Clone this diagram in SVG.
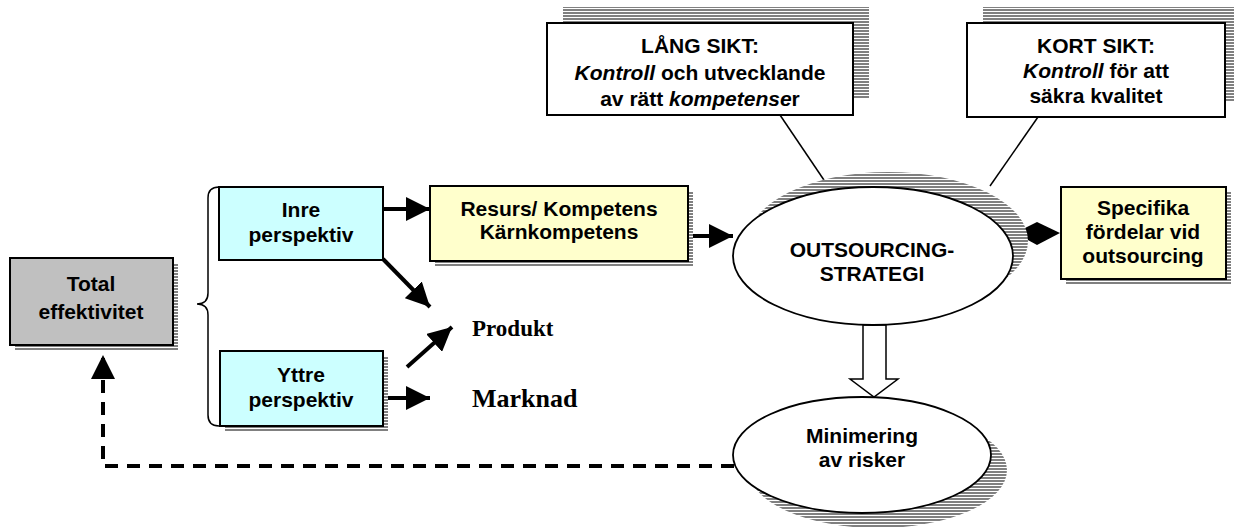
<svg xmlns="http://www.w3.org/2000/svg" width="1234" height="528" viewBox="0 0 1234 528">
<style>
.box{stroke:#000;stroke-width:2}
.t{font-family:"Liberation Sans",Arial,sans-serif;font-weight:bold;font-size:21px;text-anchor:middle;fill:#000}
.s{font-family:"Liberation Serif","Times New Roman",serif;font-weight:bold;fill:#000}
.ln{stroke:#000;stroke-width:4;fill:none}
.thin{stroke:#000;stroke-width:1.5;fill:none}
</style>
<defs>
<pattern id="stripes" width="4" height="3" patternUnits="userSpaceOnUse">
<rect width="4" height="3" fill="#fff"/>
<rect width="4" height="2" fill="#808080"/>
</pattern>
<marker id="ah" markerUnits="userSpaceOnUse" markerWidth="24" markerHeight="24" refX="24" refY="12" orient="auto">
<path d="M0,0 L24,12 L0,24 z" fill="#000"/>
</marker>
<marker id="ahd" markerUnits="userSpaceOnUse" markerWidth="24" markerHeight="24" refX="24" refY="12" orient="auto">
<path d="M0,0 L24,12 L0,24 z" fill="#000"/>
</marker>
</defs>

<g id="connectors">
<line class="thin" x1="780" y1="115" x2="828" y2="186"/>
<line class="thin" x1="1038" y1="117" x2="990" y2="186"/>
<line class="ln" x1="383" y1="209" x2="430" y2="209" marker-end="url(#ah)"/>
<line class="ln" x1="383" y1="259" x2="430" y2="307" marker-end="url(#ah)"/>
<line class="ln" x1="407" y1="367" x2="452" y2="327" marker-end="url(#ah)"/>
<line class="ln" x1="383" y1="398" x2="430" y2="398" marker-end="url(#ah)"/>
<line class="ln" x1="688" y1="236" x2="733" y2="236" marker-end="url(#ah)"/>
<polygon points="1015,233 1037,222 1060,233 1037,245" fill="#000"/>
<path d="M734,466 H103 V355" stroke="#000" stroke-width="4" fill="none" stroke-dasharray="13 9" marker-end="url(#ahd)"/>
<polygon points="863,325 886,325 886,379 898,379 874,397 850,379 863,379" fill="#fff" stroke="#000" stroke-width="1.5"/>
<path class="thin" d="M219,187 Q208,187 208,198 L208,293 Q208,304 197,304 Q208,304 208,315 L208,415 Q208,426 219,426"/>
</g>

<g id="lang-sikt">
<rect x="563" y="7" width="306" height="92" fill="url(#stripes)"/>
<rect class="box" x="547" y="23" width="306" height="92" fill="#fff"/>
<text class="t" x="700" y="53">LÅNG SIKT:</text>
<text class="t" x="700" y="80"><tspan font-style="italic">Kontroll</tspan> och utvecklande</text>
<text class="t" x="700" y="106">av rätt <tspan font-style="italic">kompetense</tspan>r</text>
</g>

<g id="kort-sikt">
<rect x="983" y="7" width="258" height="94" fill="url(#stripes)"/>
<rect class="box" x="967" y="23" width="258" height="94" fill="#fff"/>
<text class="t" x="1096" y="53">KORT SIKT:</text>
<text class="t" x="1096" y="78"><tspan font-style="italic">Kontroll</tspan> för att</text>
<text class="t" x="1096" y="103">säkra kvalitet</text>
</g>

<g id="total">
<rect x="15" y="263" width="163" height="87" fill="url(#stripes)"/>
<rect class="box" x="10" y="258" width="163" height="87" fill="#c0c0c0"/>
<text class="t" x="91" y="291" font-size="23">Total</text>
<text class="t" x="91" y="319" font-size="23">effektivitet</text>
</g>

<g id="inre">
<rect class="box" x="219" y="187" width="164" height="73" fill="#ccffff"/>
<text class="t" x="301" y="217">Inre</text>
<text class="t" x="301" y="242">perspektiv</text>
</g>

<g id="yttre">
<rect x="225" y="356" width="163" height="75" fill="url(#stripes)"/>
<rect class="box" x="220" y="351" width="163" height="75" fill="#ccffff"/>
<text class="t" x="301" y="382">Yttre</text>
<text class="t" x="301" y="407">perspektiv</text>
</g>

<g id="resurs">
<rect x="435" y="191" width="258" height="75" fill="url(#stripes)"/>
<rect class="box" x="430" y="186" width="258" height="75" fill="#ffffcc"/>
<text class="t" x="559" y="216">Resurs/ Kompetens</text>
<text class="t" x="559" y="239">Kärnkompetens</text>
</g>

<g id="produkt">
<text class="s" x="472" y="336" font-size="23">Produkt</text>
</g>
<g id="marknad">
<text class="s" x="472" y="407" font-size="26">Marknad</text>
</g>

<g id="outsourcing">
<ellipse cx="888" cy="241" rx="140" ry="69" fill="url(#stripes)"/>
<ellipse cx="873" cy="256" rx="140" ry="69" fill="#fff" stroke="#000" stroke-width="1.8"/>
<text class="t" x="872" y="257">OUTSOURCING-</text>
<text class="t" x="872" y="281">STRATEGI</text>
</g>

<g id="specifika">
<rect x="1066" y="192" width="165" height="92" fill="url(#stripes)"/>
<rect class="box" x="1061" y="187" width="165" height="92" fill="#ffffcc"/>
<text class="t" x="1143" y="215">Specifika</text>
<text class="t" x="1143" y="239">fördelar vid</text>
<text class="t" x="1143" y="263">outsourcing</text>
</g>

<g id="minimering">
<ellipse cx="878" cy="470" rx="129" ry="58" fill="url(#stripes)"/>
<ellipse cx="862" cy="455" rx="129" ry="58" fill="#fff" stroke="#000" stroke-width="1.8"/>
<text class="t" x="862" y="443">Minimering</text>
<text class="t" x="862" y="467">av risker</text>
</g>
</svg>
